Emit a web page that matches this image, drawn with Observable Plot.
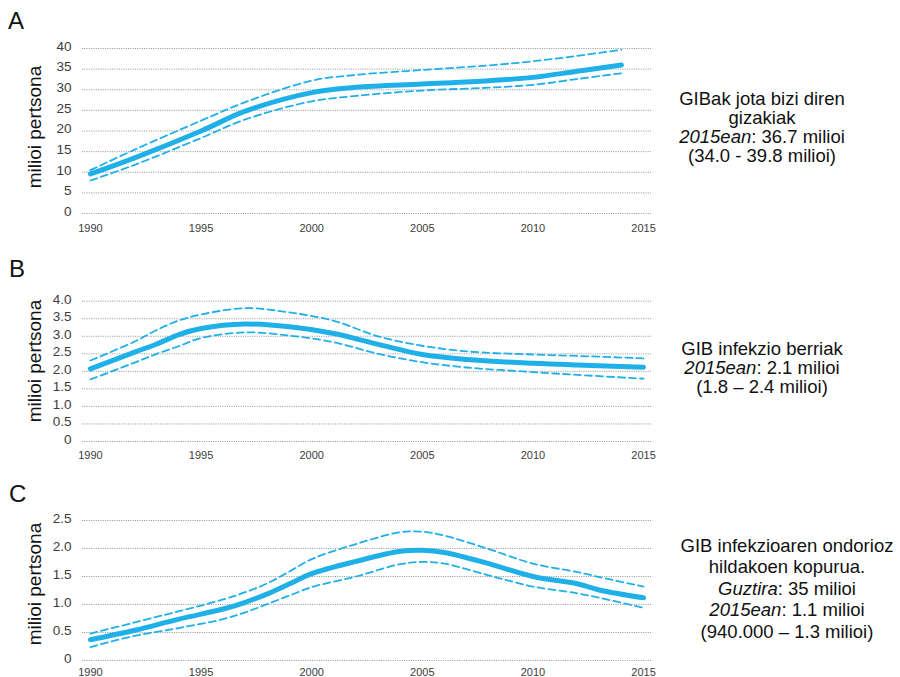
<!DOCTYPE html>
<html>
<head>
<meta charset="utf-8">
<script src="https://cdn.jsdelivr.net/npm/d3@7"></script>
<script src="https://cdn.jsdelivr.net/npm/@observablehq/plot@0.6"></script>
<style>
  html, body { margin: 0; padding: 0; background: #fff; }
  #root { position: relative; width: 900px; height: 677px; overflow: hidden; font-family: "Liberation Sans", Arial, sans-serif; }
  .letter { position: absolute; font-size: 24px; line-height: 1; color: #111; }
  .ytitle { position: absolute; width: 0; height: 0; }
  .ytitle span { position: absolute; transform: translate(-50%, -50%) rotate(-90deg); white-space: nowrap; font-size: 19px; line-height: 1; color: #111; }
  .note { position: absolute; width: 320px; text-align: center; font-size: 18.5px; color: #111; white-space: nowrap; }
  .panel { position: absolute; left: 0; }
</style>
</head>
<body>
<div id="root"></div>
<script>
// ---------- data ----------
const xTicks = [1990, 1995, 2000, 2005, 2010, 2015];

// Panel A: people living with HIV (millions)
const yearsA   = [1990, 1992, 1995, 1997, 2000, 2002, 2005, 2008, 2010, 2012, 2014];
const centralA = [9.6, 13.5, 20.0, 24.8, 29.3, 30.6, 31.4, 32.2, 33.0, 34.5, 36.0];
const upperA   = [10.5, 15.5, 22.5, 27.0, 32.2, 33.6, 34.8, 35.9, 36.9, 38.2, 39.7];
const lowerA   = [8.0, 11.8, 18.3, 22.8, 27.2, 28.5, 29.8, 30.5, 31.2, 32.6, 34.0];
const yTicksA  = [0, 5, 10, 15, 20, 25, 30, 35, 40];

// Panel B: new HIV infections (millions)
const yearsB   = [1990, 1992, 1993, 1994, 1995, 1997, 1999, 2001, 2003, 2005, 2007, 2010, 2012, 2015];
const centralB = [2.07, 2.55, 2.78, 3.05, 3.22, 3.35, 3.27, 3.08, 2.77, 2.48, 2.34, 2.23, 2.18, 2.12];
const upperB   = [2.31, 2.85, 3.18, 3.45, 3.62, 3.80, 3.68, 3.44, 3.00, 2.73, 2.57, 2.48, 2.44, 2.37];
const lowerB   = [1.77, 2.25, 2.50, 2.72, 2.95, 3.11, 3.02, 2.83, 2.50, 2.26, 2.11, 1.98, 1.90, 1.79];
const yTicksB  = [0, 0.5, 1, 1.5, 2, 2.5, 3, 3.5, 4];

// Panel C: AIDS-related deaths (millions)
const yearsC   = [1990, 1992, 1994, 1996, 1997, 1998, 1999, 2000, 2002, 2004, 2005, 2006, 2008, 2010, 2012, 2013, 2015];
const centralC = [0.37, 0.54, 0.74, 0.92, 1.04, 1.19, 1.37, 1.55, 1.77, 1.95, 1.97, 1.93, 1.73, 1.50, 1.37, 1.26, 1.12];
const upperC   = [0.48, 0.68, 0.88, 1.09, 1.22, 1.38, 1.59, 1.81, 2.08, 2.29, 2.30, 2.23, 1.99, 1.73, 1.58, 1.49, 1.32];
const lowerC   = [0.24, 0.44, 0.58, 0.74, 0.86, 1.01, 1.16, 1.31, 1.50, 1.72, 1.76, 1.73, 1.52, 1.32, 1.20, 1.12, 0.94];
const yTicksC  = [0, 0.5, 1, 1.5, 2, 2.5];

const panelLetters = ["A", "B", "C"];
const yTitle = "milioi pertsona";
const notesA = ["GIBak jota bizi diren", "gizakiak", "<i>2015ean</i>: 36.7 milioi", "(34.0 - 39.8 milioi)"];
const notesB = ["GIB infekzio berriak", "<i>2015ean</i>: 2.1 milioi", "(1.8 – 2.4 milioi)"];
const notesC = ["GIB infekzioaren ondorioz", "hildakoen kopurua.", "<i>Guztira</i>: 35 milioi", "<i>2015ean</i>: 1.1 milioi", "(940.000 – 1.3 milioi)"];

// ---------- drawing ----------
const BLUE = "#1fb0e8";
const root = document.getElementById("root");

function table(years, vals) { return years.map((y, i) => ({year: y, value: vals[i]})); }

function panel(cfg) {
  const fmt = cfg.fmt || (d => String(d));
  const svg = Plot.plot({
    width: 660,
    height: cfg.height,
    marginLeft: 82,
    marginRight: 9,
    marginTop: cfg.mt,
    marginBottom: cfg.mb,
    style: {background: "transparent", color: "#3c3c3c", overflow: "visible"},
    x: {domain: [1989.64, 2015.36]},
    y: {domain: [0, cfg.yTicks[cfg.yTicks.length - 1]]},
    marks: [
      Plot.gridY(cfg.yTicks, {stroke: "#888", strokeOpacity: 0.9, strokeWidth: 1, strokeDasharray: "1,1.3"}),
      Plot.axisX(xTicks, {tickSize: 0, tickPadding: cfg.xPad, fontSize: 11, fontFamily: "Liberation Sans, Arial, sans-serif", label: null, tickFormat: d => String(d), letterSpacing: "-0.3px"}),
      Plot.axisY(cfg.yTicks, {tickSize: 0, tickPadding: 11, fontSize: 13.5, fontFamily: "Liberation Sans, Arial, sans-serif", label: null, tickFormat: fmt, dy: -2}),
      Plot.line(table(cfg.years, cfg.upper), {x: "year", y: "value", stroke: BLUE, strokeWidth: 1.8, strokeDasharray: "7,4", curve: "catmull-rom"}),
      Plot.line(table(cfg.years, cfg.lower), {x: "year", y: "value", stroke: BLUE, strokeWidth: 1.8, strokeDasharray: "7,4", curve: "catmull-rom"}),
      Plot.line(table(cfg.years, cfg.central), {x: "year", y: "value", stroke: BLUE, strokeWidth: 5, strokeLinecap: "round", curve: "catmull-rom"})
    ]
  });
  svg.classList.add("panel");
  svg.style.top = cfg.top + "px";
  root.appendChild(svg);
}

const dec = d => d === 0 ? "0" : d.toFixed(1);

panel({top: 30, height: 208, mt: 18, mb: 25, xPad: 11, years: yearsA, central: centralA, upper: upperA, lower: lowerA, yTicks: yTicksA});
panel({top: 280, height: 183, mt: 20.7, mb: 22, xPad: 10, years: yearsB, central: centralB, upper: upperB, lower: lowerB, yTicks: yTicksB, fmt: dec});
panel({top: 500, height: 177, mt: 20, mb: 17, xPad: 8, years: yearsC, central: centralC, upper: upperC, lower: lowerC, yTicks: yTicksC, fmt: dec});

// panel letters
[[9, 8], [257, 9], [482, 9]].forEach(([top, left], i) => {
  const d = document.createElement("div");
  d.className = "letter";
  d.style.top = top + "px"; d.style.left = left + "px";
  d.textContent = panelLetters[i];
  root.appendChild(d);
});

// y titles
[127, 361, 584].forEach(cy => {
  const d = document.createElement("div");
  d.className = "ytitle";
  d.style.left = "34px"; d.style.top = cy + "px";
  const s = document.createElement("span");
  s.textContent = yTitle;
  d.appendChild(s);
  root.appendChild(d);
});

// side notes
function note(lines, cx, top, lh) {
  const d = document.createElement("div");
  d.className = "note";
  d.style.left = (cx - 160) + "px";
  d.style.top = top + "px";
  d.style.lineHeight = lh + "px";
  d.innerHTML = lines.join("<br>");
  root.appendChild(d);
}
note(notesA, 762, 88.5, 19);
note(notesB, 762, 338.5, 19);
note(notesC, 787, 534.5, 21.5);
</script>
</body>
</html>
